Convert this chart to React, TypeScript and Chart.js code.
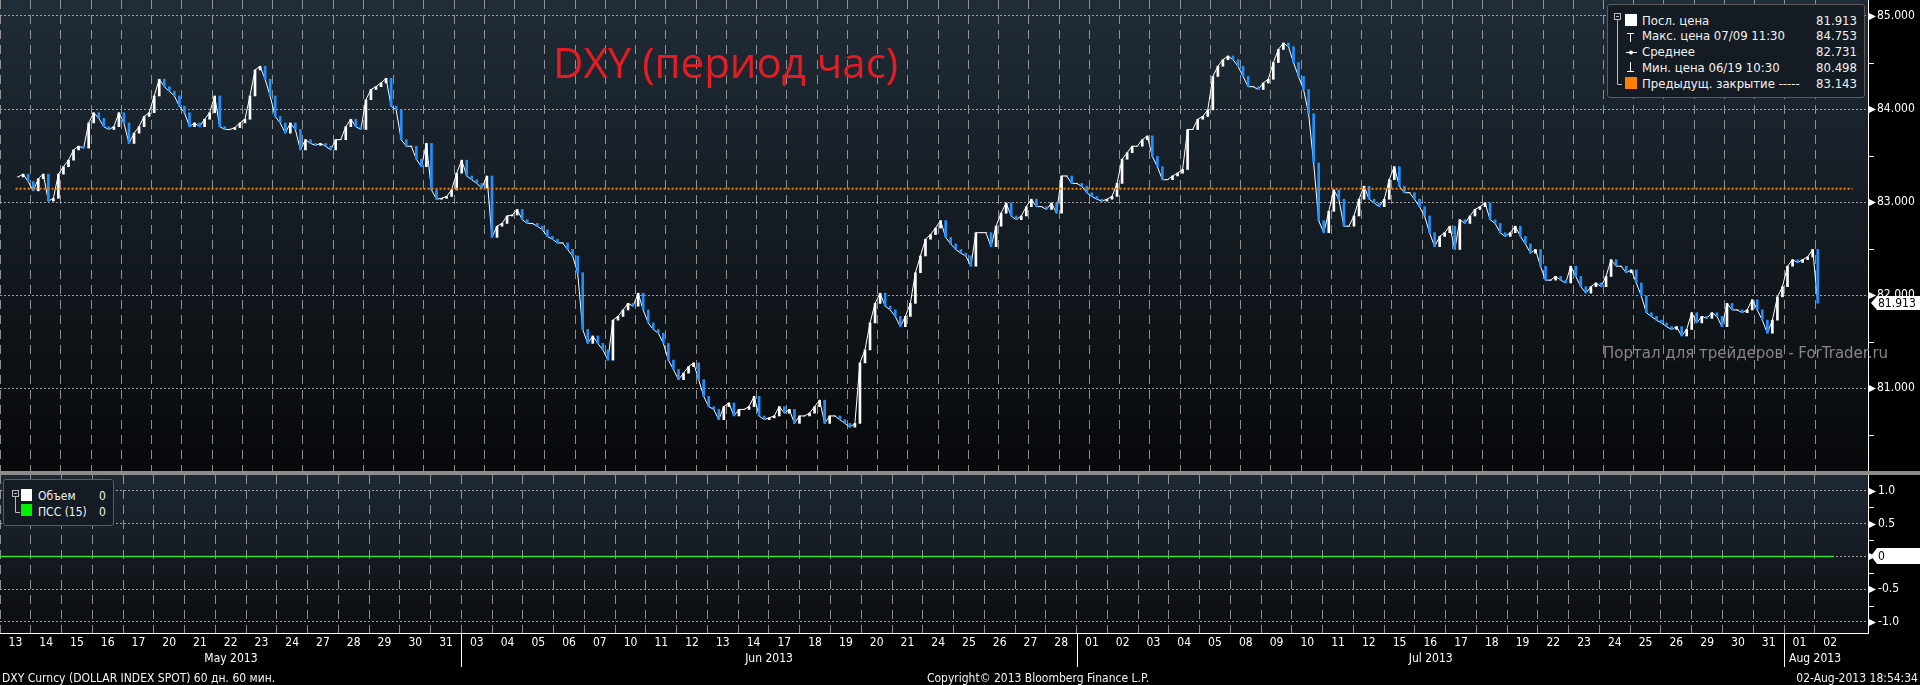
import React, { useEffect, useRef } from "react";
import { Chart, registerables } from "chart.js";

Chart.register(...registerables);

const FONT = '"DejaVu Sans Condensed", "Liberation Sans Narrow", "DejaVu Sans", sans-serif';
Chart.defaults.font.family = FONT;

// ---------- tick labels ----------
const mayDays = ["13","14","15","16","17","20","21","22","23","24","27","28","29","30","31"];
const junDays = ["03","04","05","06","07","10","11","12","13","14","17","18","19","20","21","24","25","26","27","28"];
const julDays = ["01","02","03","04","05","08","09","10","11","12","15","16","17","18","19","22","23","24","25","26","29","30","31"];
const augDays = ["01","02"];
const monthLabels = ["May 2013", "Jun 2013", "Jul 2013", "Aug 2013"];

// ---------- price series (6 bars per trading day, close values) ----------
const closeMay = [
  83.27, 83.30, 83.22, 83.12, 83.25, 83.30,
  83.01, 83.04, 83.30, 83.38, 83.45, 83.56,
  83.60, 83.58, 83.85, 83.96, 83.90, 83.81,
  83.78, 83.81, 83.96, 83.85, 83.63, 83.74,
  83.81, 83.92, 83.96, 84.14, 84.32, 84.24,
  84.19, 84.14, 84.03, 83.96, 83.81, 83.85,
  83.81, 83.89, 83.96, 84.14, 83.81, 83.78,
  83.78, 83.80, 83.85, 83.89, 84.14, 84.42,
  84.46, 84.32, 84.14, 83.92, 83.85, 83.74,
  83.85, 83.78, 83.56, 83.67, 83.63, 83.61,
  83.63, 83.60, 83.56, 83.67, 83.67, 83.81,
  83.89, 83.81, 83.78, 84.10, 84.21, 84.24,
  84.28, 84.33, 84.03, 83.99, 83.67, 83.60,
  83.60, 83.46, 83.38, 83.63, 83.13, 83.03,
  83.04, 83.06, 83.13, 83.31, 83.45, 83.28,
];
const closeJun = [
  83.24, 83.20, 83.15, 83.28, 82.62, 82.74,
  82.77, 82.85, 82.86, 82.92, 82.81, 82.77,
  82.77, 82.74, 82.70, 82.63, 82.60, 82.56,
  82.56, 82.49, 82.42, 82.24, 81.63, 81.48,
  81.56, 81.48, 81.41, 81.30, 81.73, 81.77,
  81.84, 81.91, 81.88, 82.02, 81.84, 81.70,
  81.63, 81.59, 81.48, 81.30, 81.20, 81.09,
  81.16, 81.23, 81.27, 81.09, 80.91, 80.80,
  80.77, 80.66, 80.80, 80.84, 80.70, 80.77,
  80.77, 80.80, 80.91, 80.70, 80.66, 80.68,
  80.70, 80.80, 80.73, 80.77, 80.62, 80.70,
  80.70, 80.73, 80.80, 80.87, 80.62, 80.70,
  80.70, 80.66, 80.62, 80.58, 80.62, 81.27,
  81.41, 81.70, 81.91, 82.02, 81.88, 81.84,
  81.77, 81.66, 81.77, 81.91, 82.24, 82.42,
  82.60, 82.65, 82.72, 82.80, 82.62, 82.55,
  82.49, 82.45, 82.42, 82.31, 82.67, 82.67,
  82.67, 82.52, 82.74, 82.88, 82.99, 82.85,
  82.81, 82.85, 82.95, 83.03, 82.95, 82.95,
  82.92, 82.99, 82.88, 83.28, 83.28, 83.20,
];
const closeJul = [
  83.20, 83.17, 83.10, 83.06, 83.03, 83.01,
  83.03, 83.06, 83.20, 83.46, 83.53, 83.60,
  83.60, 83.67, 83.71, 83.49, 83.38, 83.24,
  83.24, 83.28, 83.31, 83.35, 83.78, 83.78,
  83.89, 83.92, 83.99, 84.35, 84.46, 84.53,
  84.57, 84.53, 84.46, 84.35, 84.24, 84.24,
  84.21, 84.28, 84.32, 84.50, 84.64, 84.71,
  84.67, 84.50, 84.35, 84.21, 83.95, 83.42,
  82.80, 82.67, 82.90, 83.13, 83.03, 82.74,
  82.74, 82.85, 83.03, 83.17, 83.03, 82.99,
  82.95, 83.03, 83.24, 83.38, 83.17, 83.10,
  83.10, 83.03, 82.95, 82.85, 82.67, 82.52,
  82.63, 82.67, 82.74, 82.49, 82.81, 82.77,
  82.85, 82.92, 82.95, 82.99, 82.81, 82.77,
  82.67, 82.63, 82.67, 82.74, 82.63, 82.55,
  82.45, 82.49, 82.31, 82.16, 82.16, 82.20,
  82.16, 82.13, 82.31, 82.20, 82.09, 82.02,
  82.09, 82.13, 82.09, 82.20, 82.38, 82.31,
  82.31, 82.24, 82.27, 82.13, 81.99, 81.81,
  81.77, 81.73, 81.70, 81.66, 81.63, 81.66,
  81.56, 81.63, 81.81, 81.70, 81.77, 81.75,
  81.81, 81.77, 81.66, 81.91, 81.84, 81.84,
  81.81, 81.84, 81.95, 81.84, 81.73, 81.59,
];
const closeAug = [
  81.73, 81.98, 82.09, 82.31, 82.38, 82.35,
  82.38, 82.41, 82.49, 81.913,
];

const lastPrice = 81.913;
const maxPrice = 84.753;
const avgPrice = 82.731;
const minPrice = 80.498;
const prevClose = 83.143;

// lower panel (ПСС (15)) values
const pssX = [0, 59.62];
const pssY = [0, 0];

const mainMinorTicks = [80.5, 81.5, 82.5, 83.5, 84.5];
const lowMinorTicks = [-0.75, -0.25, 0.25, 0.75];

// ---------- derived ----------
const BARS_PER_DAY = 6;
const allDays = [...mayDays, ...junDays, ...julDays, ...augDays];
const monthLens = [mayDays.length, junDays.length, julDays.length, augDays.length];
const monthStarts = monthLens.map((_, i) => monthLens.slice(0, i).reduce((a, b) => a + b, 0));
const closes = [...closeMay, ...closeJun, ...closeJul, ...closeAug];

const X_MAX = 60.73;
const MAIN_MIN = 80.108;
const MAIN_MAX = 85.172;
const LOW_MIN = -1.168;
const LOW_MAX = 1.244;
const UP = "#ffffff";
const DOWN = "#1e8fff";

const barPos = (i: number) => Math.floor(i / BARS_PER_DAY) + ((i % BARS_PER_DAY) + 0.5) / BARS_PER_DAY;
const candleData = closes.map((c, i) => ({ x: barPos(i), y: [i === 0 ? c : closes[i - 1], c] }));
const candleColors = closes.map((c, i) => (i === 0 || c >= closes[i - 1] ? UP : DOWN));
const closeLine = closes.map((c, i) => ({ x: barPos(i), y: c }));
const prevLine = [{ x: 0, y: prevClose }, { x: X_MAX, y: prevClose }];

const panelBg = (top: string, bottom: string) => ({
  id: "panelBg",
  beforeDraw(chart: any) {
    const { ctx, chartArea: a } = chart;
    const g = ctx.createLinearGradient(0, a.top, 0, a.bottom);
    g.addColorStop(0, top);
    g.addColorStop(1, bottom);
    ctx.save();
    ctx.fillStyle = g;
    ctx.fillRect(a.left, a.top, a.right - a.left, a.bottom - a.top);
    ctx.restore();
  },
});

const axisDecor = (minors: number[], boxValue: number, boxText: string, boxH: number) => ({
  id: "axisDecor",
  afterDraw(chart: any) {
    const { ctx, chartArea: a } = chart;
    const ys = chart.scales.y;
    const x0 = a.right;
    ctx.save();
    ctx.fillStyle = "#fff";
    ctx.strokeStyle = "#fff";
    ctx.lineWidth = 1;
    for (const t of ys.ticks) {
      const py = Math.round(ys.getPixelForValue(t.value)) + 0.5;
      ctx.beginPath();
      ctx.moveTo(x0 + 1, py - 3.5);
      ctx.lineTo(x0 + 8, py);
      ctx.lineTo(x0 + 1, py + 3.5);
      ctx.closePath();
      ctx.fill();
    }
    for (const v of minors) {
      const py = Math.round(ys.getPixelForValue(v)) + 0.5;
      ctx.beginPath();
      ctx.moveTo(x0, py);
      ctx.lineTo(x0 + 6, py);
      ctx.stroke();
    }
    const by = Math.round(ys.getPixelForValue(boxValue));
    ctx.beginPath();
    ctx.moveTo(x0 + 3, by);
    ctx.lineTo(x0 + 9, by - boxH / 2);
    ctx.lineTo(chart.width, by - boxH / 2);
    ctx.lineTo(chart.width, by + boxH / 2);
    ctx.lineTo(x0 + 9, by + boxH / 2);
    ctx.closePath();
    ctx.fill();
    ctx.fillStyle = "#000";
    ctx.font = `12px ${FONT}`;
    ctx.textBaseline = "middle";
    ctx.textAlign = "left";
    ctx.fillText(boxText, x0 + 10, by + 1);
    ctx.restore();
  },
});

const monthDecor = {
  id: "monthDecor",
  afterDraw(chart: any) {
    const { ctx, chartArea: a } = chart;
    const xs = chart.scales.x;
    ctx.save();
    ctx.strokeStyle = "#fff";
    ctx.fillStyle = "#fff";
    ctx.lineWidth = 1;
    ctx.font = `12px ${FONT}`;
    ctx.textBaseline = "middle";
    ctx.textAlign = "center";
    monthStarts.forEach((d, m) => {
      const px = Math.round(xs.getPixelForValue(d)) + 0.5;
      if (d > 0) {
        ctx.beginPath();
        ctx.moveTo(px, a.bottom);
        ctx.lineTo(px, a.bottom + 34);
        ctx.stroke();
      }
      const ex = xs.getPixelForValue(d + monthLens[m]);
      ctx.fillText(monthLabels[m], (px + ex) / 2, a.bottom + 26);
    });
    ctx.restore();
  },
};

const noPadV = (w: number) => (s: any) => {
  s.width = w;
  s.paddingTop = 0;
  s.paddingBottom = 0;
};
const noPadH = (h: number) => (s: any) => {
  s.height = h;
  s.paddingLeft = 0;
  s.paddingRight = 0;
};
const dayGridTicks = (s: any) => {
  s.ticks = s.ticks.filter((t: any) => t.value <= allDays.length - 1);
};

const VGRID = "rgba(165,165,165,0.85)";
const HGRID = "rgba(175,175,175,0.9)";

const legendRows = [
  { label: "Посл. цена", value: lastPrice.toFixed(3) },
  { label: "Макс. цена 07/09 11:30", value: maxPrice.toFixed(3) },
  { label: "Среднее", value: avgPrice.toFixed(3) },
  { label: "Мин. цена 06/19 10:30", value: minPrice.toFixed(3) },
  { label: "Предыдущ. закрытие -----", value: prevClose.toFixed(3) },
];
const lowLegendRows = [
  { label: "Объем", value: "0", color: "#ffffff" },
  { label: "ПСС (15)", value: "0", color: "#00f000" },
];

const txt = (extra: any) => ({
  position: "absolute" as const,
  whiteSpace: "nowrap" as const,
  fontFamily: FONT,
  fontSize: 12,
  lineHeight: "14px",
  color: "#f2f2f2",
  ...extra,
});

export default function App() {
  const mainRef = useRef<HTMLCanvasElement>(null);
  const lowRef = useRef<HTMLCanvasElement>(null);

  useEffect(() => {
    const main = new Chart(mainRef.current as HTMLCanvasElement, {
      type: "bar",
      data: {
        datasets: [
          {
            type: "bar",
            label: "Посл. цена",
            data: candleData as any,
            backgroundColor: candleColors,
            borderWidth: 0,
            barThickness: 2,
            order: 1,
          },
          {
            type: "line",
            label: "close",
            data: closeLine as any,
            borderColor: "#ffffff",
            borderWidth: 1,
            pointRadius: 0,
            tension: 0,
            order: 2,
          },
          {
            type: "line",
            label: "Предыдущ. закрытие",
            data: prevLine as any,
            borderColor: "#ff7f00",
            borderWidth: 2,
            borderDash: [2, 2],
            pointRadius: 0,
            order: 0,
          },
        ] as any,
      },
      options: {
        responsive: false,
        maintainAspectRatio: false,
        animation: false,
        events: [],
        layout: { padding: 0 },
        plugins: { legend: { display: false }, tooltip: { enabled: false }, title: { display: false } },
        scales: {
          x: {
            type: "linear",
            min: 0,
            max: X_MAX,
            position: "bottom",
            ticks: { display: false, stepSize: 1, includeBounds: false },
            grid: { color: VGRID, lineWidth: 1, drawTicks: false },
            border: { display: false, dash: [9, 6] },
            afterBuildTicks: dayGridTicks,
            afterFit: noPadH(0),
          },
          y: {
            type: "linear",
            position: "right",
            min: MAIN_MIN,
            max: MAIN_MAX,
            ticks: {
              stepSize: 1,
              includeBounds: false,
              color: "#ffffff",
              padding: 9,
              font: { size: 12, family: FONT },
              callback: (v: any) => Number(v).toFixed(3),
            },
            grid: { color: HGRID, lineWidth: 1, drawTicks: false },
            border: { display: true, color: "#ffffff", width: 1, dash: [2, 2] },
            afterFit: noPadV(52),
          },
        },
      } as any,
      plugins: [panelBg("#202c37", "#07090b"), axisDecor(mainMinorTicks, lastPrice, lastPrice.toFixed(3), 14)],
    });

    const low = new Chart(lowRef.current as HTMLCanvasElement, {
      type: "line",
      data: {
        datasets: [
          {
            label: "ПСС (15)",
            data: pssX.map((x, i) => ({ x, y: pssY[i] })),
            borderColor: "#30e030",
            borderWidth: 1.5,
            pointRadius: 0,
            xAxisID: "x",
            yAxisID: "y",
          },
        ],
      },
      options: {
        responsive: false,
        maintainAspectRatio: false,
        animation: false,
        events: [],
        layout: { padding: 0 },
        plugins: { legend: { display: false }, tooltip: { enabled: false }, title: { display: false } },
        scales: {
          x: {
            type: "linear",
            min: 0,
            max: X_MAX,
            position: "bottom",
            ticks: { display: false, stepSize: 1, includeBounds: false },
            grid: { color: VGRID, lineWidth: 1, drawTicks: false },
            border: { display: true, color: "#ffffff", width: 1, dash: [9, 6] },
            afterBuildTicks: dayGridTicks,
            afterFit: noPadH(0),
          },
          x2: {
            type: "linear",
            min: 0,
            max: X_MAX,
            position: "bottom",
            grid: { display: false, drawTicks: false },
            border: { display: false },
            ticks: {
              color: "#ffffff",
              padding: 3,
              autoSkip: false,
              maxRotation: 0,
              minRotation: 0,
              font: { size: 12, family: FONT },
              callback: (_v: any, idx: number) => allDays[idx],
            },
            afterBuildTicks: (s: any) => {
              s.ticks = allDays.map((_, i) => ({ value: i + 0.5 }));
            },
            afterFit: noPadH(52),
          },
          y: {
            type: "linear",
            position: "right",
            min: LOW_MIN,
            max: LOW_MAX,
            ticks: {
              stepSize: 0.5,
              includeBounds: false,
              color: "#ffffff",
              padding: 10,
              font: { size: 12, family: FONT },
              callback: (v: any) => (Number(v) === 0 ? "0" : Number(v).toFixed(1)),
            },
            grid: { color: HGRID, lineWidth: 1, drawTicks: false },
            border: { display: true, color: "#ffffff", width: 1, dash: [2, 2] },
            afterFit: noPadV(52),
          },
        },
      } as any,
      plugins: [panelBg("#1e2934", "#0a0c0e"), axisDecor(lowMinorTicks, 0, "0", 16), monthDecor],
    });

    return () => {
      main.destroy();
      low.destroy();
    };
  }, []);

  const rowY = (i: number) => 20.5 + i * 15.9;

  return (
    <div
      style={{
        position: "absolute",
        left: 0,
        top: 0,
        width: 1920,
        height: 685,
        background: "#000",
        overflow: "hidden",
        fontFamily: FONT,
      }}
    >
      <canvas ref={mainRef} width={1920} height={471} style={{ position: "absolute", left: 0, top: 0, width: 1920, height: 471 }} />
      <div style={{ position: "absolute", left: 0, top: 471, width: 1920, height: 4, background: "#8c8c8c" }} />
      <canvas ref={lowRef} width={1920} height={210} style={{ position: "absolute", left: 0, top: 475, width: 1920, height: 210 }} />

      {/* title */}
      <div
        style={{
          position: "absolute",
          left: 553,
          top: 41,
          fontFamily: '"Open Sans", sans-serif',
          fontSize: 42,
          lineHeight: "42px",
          color: "#e51c24",
          whiteSpace: "nowrap",
        }}
      >
        DXY (период час)
      </div>

      {/* main legend */}
      <div
        style={{
          position: "absolute",
          left: 1607,
          top: 4,
          width: 256,
          height: 92,
          background: "#141b22",
          border: "1px solid #5c5c5c",
          borderRadius: 3,
        }}
      />
      <svg style={{ position: "absolute", left: 0, top: 0 }} width={1920} height={110}>
        <rect x={1614.5} y={13.5} width={6} height={6} fill="none" stroke="#bbbbbb" strokeWidth={1} />
        <line x1={1616} y1={16.5} x2={1619} y2={16.5} stroke="#bbbbbb" />
        <line x1={1617.5} y1={20} x2={1617.5} y2={84.5} stroke="#bbbbbb" />
        <line x1={1617.5} y1={84.5} x2={1622} y2={84.5} stroke="#bbbbbb" />
        <rect x={1625} y={14} width={12} height={12} fill="#ffffff" />
        <line x1={1627} y1={33.5} x2={1634} y2={33.5} stroke="#ffffff" />
        <line x1={1630.5} y1={33.5} x2={1630.5} y2={42} stroke="#ffffff" />
        <line x1={1626} y1={52.5} x2={1637} y2={52.5} stroke="#ffffff" />
        <circle cx={1631} cy={52.5} r={2} fill="#ffffff" />
        <line x1={1630.5} y1={62} x2={1630.5} y2={71} stroke="#ffffff" />
        <line x1={1627} y1={71.5} x2={1634} y2={71.5} stroke="#ffffff" />
        <rect x={1625} y={77} width={12} height={12} fill="#ff8000" />
      </svg>
      {legendRows.map((r, i) => (
        <React.Fragment key={r.label}>
          <div style={txt({ left: 1642, top: rowY(i) - 7, fontSize: 13 })}>{r.label}</div>
          <div style={txt({ right: 1920 - 1857, top: rowY(i) - 7, fontSize: 13, textAlign: "right" })}>{r.value}</div>
        </React.Fragment>
      ))}

      {/* lower legend */}
      <div
        style={{
          position: "absolute",
          left: 3,
          top: 479,
          width: 109,
          height: 45,
          background: "#141b22",
          border: "1px solid #5c5c5c",
          borderRadius: 3,
        }}
      />
      <svg style={{ position: "absolute", left: 0, top: 470 }} width={130} height={60}>
        <rect x={12.5} y={20.5} width={6} height={6} fill="none" stroke="#bbbbbb" />
        <line x1={14} y1={23.5} x2={17} y2={23.5} stroke="#bbbbbb" />
        <line x1={15.5} y1={27} x2={15.5} y2={42.5} stroke="#bbbbbb" />
        <line x1={15.5} y1={42.5} x2={20} y2={42.5} stroke="#bbbbbb" />
        <rect x={21} y={19} width={11} height={12} fill={lowLegendRows[0].color} />
        <rect x={21} y={34} width={11} height={12} fill={lowLegendRows[1].color} />
      </svg>
      {lowLegendRows.map((r, i) => (
        <React.Fragment key={r.label}>
          <div style={txt({ left: 38, top: 496 + i * 16 - 7 })}>{r.label}</div>
          <div style={txt({ left: 99, top: 496 + i * 16 - 7 })}>{r.value}</div>
        </React.Fragment>
      ))}

      {/* watermark */}
      <div
        style={{
          position: "absolute",
          left: 1603,
          top: 346,
          fontFamily: '"DejaVu Sans", sans-serif',
          fontSize: 15,
          lineHeight: "15px",
          color: "#8c8383",
          whiteSpace: "nowrap",
        }}
      >
        Портал для трейдеров - ForTrader.ru
      </div>

      {/* footer */}
      <div style={txt({ left: 2, top: 671 })}>DXY Curncy (DOLLAR INDEX SPOT) 60 дн. 60 мин.</div>
      <div style={txt({ left: 1038, top: 671, transform: "translateX(-50%)" })}>Copyright© 2013 Bloomberg Finance L.P.</div>
      <div style={txt({ right: 2, top: 671 })}>02-Aug-2013 18:54:34</div>
    </div>
  );
}
